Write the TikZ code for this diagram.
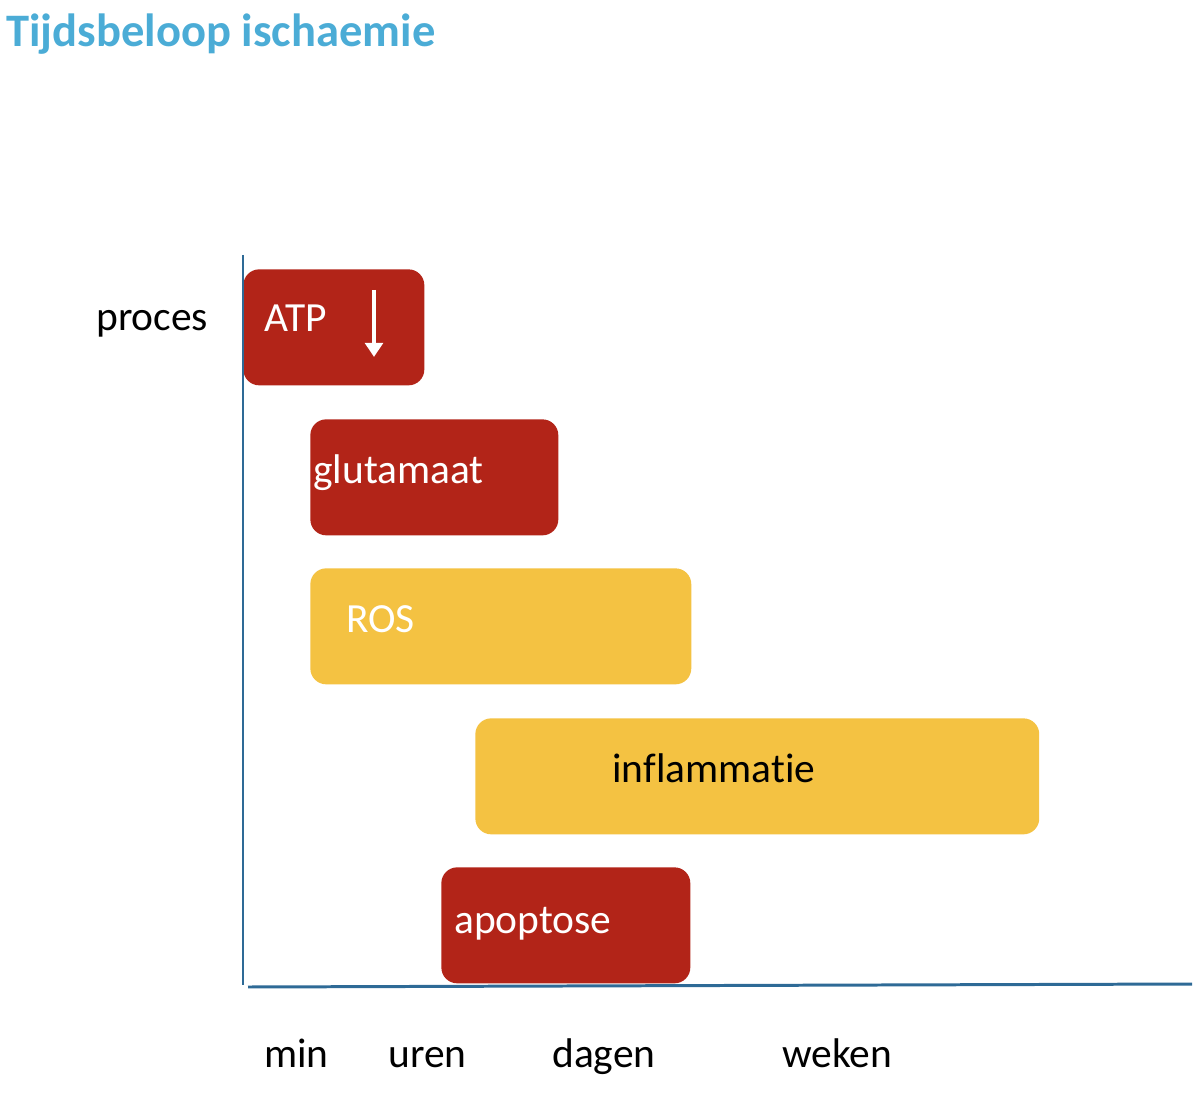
\documentclass[tikz,border=0pt]{standalone}
\usepackage{fontspec}
\setmainfont[Ligatures=CommonOff]{Carlito}
\usetikzlibrary{arrows.meta}
\definecolor{titleblue}{RGB}{75,172,214}
\definecolor{axisblue}{RGB}{46,106,150}
\definecolor{boxred}{RGB}{178,36,24}
\definecolor{boxyellow}{RGB}{244,194,66}
\begin{document}
\begin{tikzpicture}[x=0.02cm,y=-0.02cm,
    bar/.style={shape=rectangle,rounded corners=9pt,anchor=north west,inner sep=0pt,minimum height=2.32cm},
    txt/.style={anchor=base west,inner sep=0pt,font=\fontsize{23.6}{28}\selectfont}]
    \useasboundingbox (0,0) rectangle (1204,1098);
    \node[anchor=base west,inner sep=0pt,text=titleblue,font=\fontsize{26.5}{31}\selectfont\bfseries] (T) at (6,47) {Tijdsbeloop ischaemie};

    \node[bar,fill=boxred,minimum width=3.62cm] (ATP) at (243,269) {};
    \node[bar,fill=boxred,minimum width=4.96cm] (GLU) at (310,419) {};
    \node[bar,fill=boxyellow,minimum width=7.62cm] (ROS) at (310,568) {};
    \node[bar,fill=boxyellow,minimum width=11.28cm] (INF) at (475,718) {};
    \node[bar,fill=boxred,minimum width=4.98cm] (APO) at (441,867) {};

    \node[txt,white] (ATPt) at (264,332) {ATP};
    \node[txt,white] (GLUt) at (313,483) {glutamaat};
    \node[txt,white] (ROSt) at (346,632) {ROS};
    \node[txt] (INFt) at (612,782) {inflammatie};
    \node[txt,white] (APOt) at (454,933) {apoptose};

    \coordinate (A1) at (374,290);
    \coordinate (A2) at (374,357);
    \draw[white,line width=2.6pt,-{Triangle[width=10pt,length=8pt]}] (A1) -- (A2);

    \coordinate (Y1) at (243,255);
    \coordinate (Y0) at (243,985);
    \coordinate (X0) at (248,987);
    \coordinate (X1) at (1192,984);
    \draw[axisblue,line width=1.7pt] (Y1) -- (Y0);
    \draw[axisblue,line width=1.7pt] (X0) -- (X1);

    \node[txt] (P) at (96,331) {proces};
    \node[txt] (M) at (264,1067) {min};
    \node[txt] (U) at (388,1067) {uren};
    \node[txt] (D) at (552,1067) {dagen};
    \node[txt] (W) at (782,1067) {weken};
\end{tikzpicture}
\end{document}
